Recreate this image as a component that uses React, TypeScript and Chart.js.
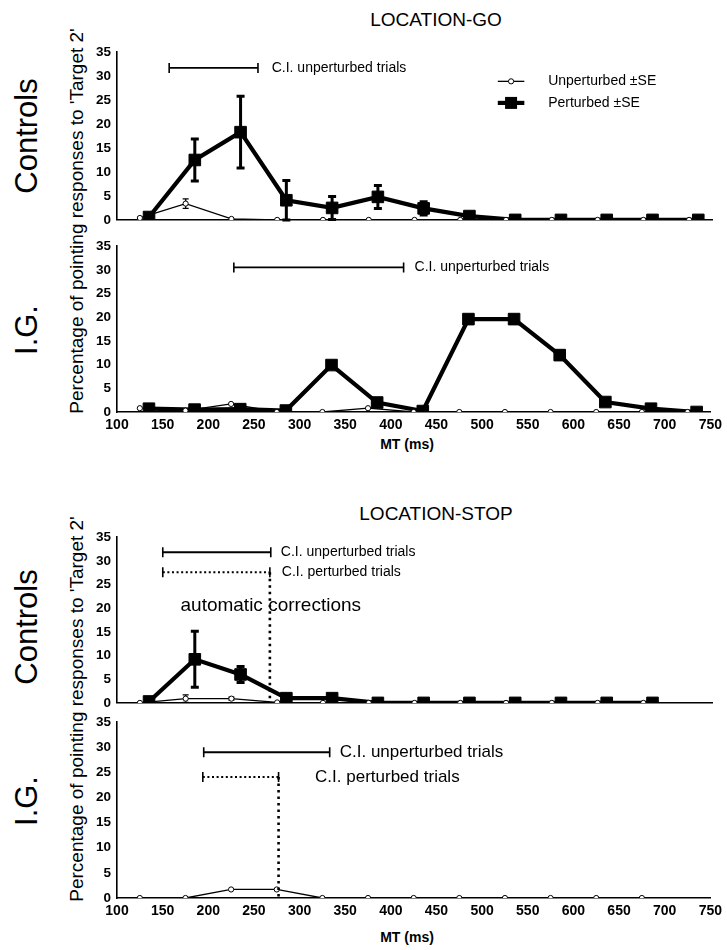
import React, { useEffect, useRef } from "react";
import { Chart, registerables } from "chart.js";

Chart.register(...registerables);

const FONT = "'Liberation Sans', Arial, Helvetica, sans-serif";

// ---------- data ----------
const xTicksMin = 100;
const xTicksMax = 750;
const xStep = 50;
const yMin = 0;
const yMax = 35;
const yStep = 5;

const unpertMsGo = [125, 175, 225, 275, 325, 375, 425, 475, 525, 575, 625, 675, 725];
const pertMsGo = [135, 185, 235, 285, 335, 385, 435, 485, 535, 585, 635, 685, 735];
const unpertMsStop = [125, 175, 225, 275, 325, 375, 425, 475, 525, 575, 625, 675];
const pertMsStop = [135, 185, 235, 285, 335, 385, 435, 485, 535, 585, 635, 685];

// LOCATION-GO, Controls
const goCtrlUnpert = [0.4, 3.4, 0.2, 0, 0, 0, 0, 0, 0, 0, 0, 0, 0];
const goCtrlUnpertSE = [0, 1.0, 0, 0, 0, 0, 0, 0, 0, 0, 0, 0, 0];
const goCtrlPert = [0.6, 12.5, 18.3, 4.1, 2.5, 4.8, 2.4, 0.8, 0, 0, 0, 0, 0];
const goCtrlPertSE = [0, 4.4, 7.5, 4.1, 2.4, 2.4, 1.4, 0, 0, 0, 0, 0, 0];

// LOCATION-GO, I.G.
const goIgUnpert = [0.8, 0.3, 1.7, 0, 0, 0.8, 0, 0, 0, 0, 0, 0, 0];
const goIgPert = [0.7, 0.5, 0.6, 0.3, 9.9, 2.0, 0.2, 19.6, 19.6, 12.0, 2.1, 0.7, 0];

// LOCATION-STOP, Controls
const stopCtrlUnpert = [0, 0.9, 0.9, 0.1, 0, 0, 0, 0, 0, 0, 0, 0];
const stopCtrlUnpertSE = [0, 0.8, 0.3, 0, 0, 0, 0, 0, 0, 0, 0, 0];
const stopCtrlPert = [0.3, 9.2, 6.0, 1.0, 1.0, 0, 0, 0, 0, 0, 0, 0];
const stopCtrlPertSE = [0, 5.9, 1.7, 0, 0, 0, 0, 0, 0, 0, 0, 0];

// LOCATION-STOP, I.G.
const stopIgUnpert = [0, 0, 1.7, 1.7, 0, 0, 0, 0, 0, 0, 0, 0];

// confidence intervals (ms)
const ciGoCtrlUnpert = [157, 254];
const ciGoIgUnpert = [228, 414];
const ciStopCtrlUnpert = [150, 268];
const ciStopCtrlPert = [150, 267];
const ciStopIgUnpert = [195, 333];
const ciStopIgPert = [194, 277];

const legendLabels = ["Unperturbed \u00b1SE", "Perturbed \u00b1SE"];
const ciUnpertLabel = "C.I. unperturbed trials";
const ciPertLabel = "C.I. perturbed trials";
const autoLabel = "automatic corrections";
const sectionTitles = ["LOCATION-GO", "LOCATION-STOP"];
const rowLabels = ["Controls", "I.G."];
const yTitle = "Percentage of pointing responses to 'Target 2'";
const xTitle = "MT (ms)";

// ---------- helpers ----------
const zip = (xs: number[], ys: number[]) => ys.map((v, i) => ({ x: xs[i], y: v }));

const unpertStyle = {
  borderColor: "#000",
  borderWidth: 1.3,
  pointStyle: "circle",
  pointRadius: 2.6,
  pointBackgroundColor: "#fff",
  pointBorderColor: "#000",
  pointBorderWidth: 1,
  tension: 0,
  clip: 0,
  seWidth: 1.3,
  seCap: 3,
};
const pertStyle = {
  borderColor: "#000",
  borderWidth: 4.2,
  pointStyle: "rect",
  pointRadius: 8.2,
  pointBackgroundColor: "#000",
  pointBorderColor: "#000",
  pointBorderWidth: 1,
  tension: 0,
  clip: 0,
  seWidth: 3,
  seCap: 4,
};

const overlay = {
  id: "overlay",
  beforeDatasetsDraw(chart: any) {
    const { ctx } = chart;
    const x = chart.scales.x;
    const y = chart.scales.y;
    chart.data.datasets.forEach((ds: any) => {
      if (!ds.se) return;
      ctx.save();
      ctx.strokeStyle = "#000";
      ctx.lineWidth = ds.seWidth;
      ds.data.forEach((p: any, j: number) => {
        const s = ds.se[j];
        if (!s) return;
        const px = x.getPixelForValue(p.x);
        const yt = y.getPixelForValue(p.y + s);
        const yb = y.getPixelForValue(Math.max(0, p.y - s));
        ctx.beginPath();
        ctx.moveTo(px, yt);
        ctx.lineTo(px, yb);
        ctx.moveTo(px - ds.seCap, yt);
        ctx.lineTo(px + ds.seCap, yt);
        ctx.moveTo(px - ds.seCap, yb);
        ctx.lineTo(px + ds.seCap, yb);
        ctx.stroke();
      });
      ctx.restore();
    });
  },
  afterDatasetsDraw(chart: any, _args: any, opts: any) {
    const { ctx } = chart;
    const x = chart.scales.x;
    const y = chart.scales.y;
    ctx.save();
    ctx.fillStyle = "#000";
    ctx.strokeStyle = "#000";
    (opts.texts || []).forEach((t: any) => {
      ctx.font = `${t.size}px ${FONT}`;
      ctx.textAlign = t.align || "left";
      ctx.textBaseline = "middle";
      ctx.fillText(t.text, x.getPixelForValue(t.at), y.getPixelForValue(t.level));
    });
    (opts.ci || []).forEach((c: any) => {
      const x1 = x.getPixelForValue(c.range[0]);
      const x2 = x.getPixelForValue(c.range[1]);
      const py = y.getPixelForValue(c.level);
      ctx.save();
      ctx.lineWidth = c.dotted ? 2 : 1.8;
      ctx.setLineDash(c.dotted ? [2, 2.6] : []);
      ctx.beginPath();
      ctx.moveTo(x1, py);
      ctx.lineTo(x2, py);
      ctx.stroke();
      ctx.setLineDash([]);
      ctx.lineWidth = 1.6;
      ctx.beginPath();
      ctx.moveTo(x1, py - 5);
      ctx.lineTo(x1, py + 5);
      ctx.moveTo(x2, py - 5);
      ctx.lineTo(x2, py + 5);
      ctx.stroke();
      if (c.drop) {
        ctx.lineWidth = 2.6;
        ctx.setLineDash([2.5, 4]);
        ctx.beginPath();
        ctx.moveTo(x2, py);
        ctx.lineTo(x2, y.getPixelForValue(0));
        ctx.stroke();
        ctx.setLineDash([]);
      }
      ctx.font = `${c.size}px ${FONT}`;
      ctx.textAlign = "left";
      ctx.textBaseline = "middle";
      ctx.fillText(c.label, x.getPixelForValue(c.labelAt), py);
      ctx.restore();
    });
    if (opts.legend) {
      const L = opts.legend;
      const x1 = x.getPixelForValue(L.from);
      const x2 = x.getPixelForValue(L.to);
      const xm = (x1 + x2) / 2;
      L.rows.forEach((r: any) => {
        const py = y.getPixelForValue(r.level);
        ctx.lineWidth = r.kind === "pert" ? 4.2 : 1.3;
        ctx.beginPath();
        ctx.moveTo(x1, py);
        ctx.lineTo(x2, py);
        ctx.stroke();
        if (r.kind === "pert") {
          ctx.fillRect(xm - 6, py - 6, 12, 12);
        } else {
          ctx.beginPath();
          ctx.arc(xm, py, 2.6, 0, Math.PI * 2);
          ctx.fillStyle = "#fff";
          ctx.fill();
          ctx.lineWidth = 1;
          ctx.stroke();
          ctx.fillStyle = "#000";
        }
        ctx.font = `${L.size}px ${FONT}`;
        ctx.textAlign = "left";
        ctx.textBaseline = "middle";
        ctx.fillText(r.label, x.getPixelForValue(L.textAt), py);
      });
    }
    ctx.restore();
  },
};

type Spec = {
  top: number;
  height: number;
  showX: boolean;
  bottomPad: number;
  datasets: any[];
  overlay: any;
};

const PLOT_LEFT = 117;
const PLOT_RIGHT_PAD = 15;

function makeConfig(spec: Spec): any {
  return {
    type: "line",
    data: { datasets: spec.datasets },
    plugins: [overlay],
    options: {
      animation: false,
      responsive: false,
      maintainAspectRatio: false,
      devicePixelRatio: 1,
      events: [],
      layout: { padding: { left: 0, right: PLOT_RIGHT_PAD, top: 10, bottom: spec.bottomPad } },
      plugins: {
        legend: { display: false },
        tooltip: { enabled: false },
        overlay: spec.overlay,
      },
      scales: {
        x: {
          type: "linear",
          min: xTicksMin,
          max: xTicksMax,
          grid: { display: false, drawTicks: false },
          border: { display: true, color: "#000", width: 1.6 },
          ticks: {
            display: spec.showX,
            stepSize: xStep,
            autoSkip: false,
            maxRotation: 0,
            padding: 5,
            color: "#000",
            font: { family: FONT, size: 14, weight: "bold" },
          },
          afterFit: (s: any) => {
            s.height = spec.showX ? 24 : 0;
          },
        },
        y: {
          type: "linear",
          min: yMin,
          max: yMax,
          grid: { display: false, drawTicks: false },
          border: { display: true, color: "#000", width: 1.6 },
          ticks: {
            stepSize: yStep,
            padding: 6,
            color: "#000",
            font: { family: FONT, size: 13.5, weight: "bold" },
          },
          afterFit: (s: any) => {
            s.width = PLOT_LEFT;
          },
        },
      },
    },
  };
}

function PanelChart({ spec }: { spec: Spec }) {
  const ref = useRef<HTMLCanvasElement>(null);
  useEffect(() => {
    const chart = new Chart(ref.current as HTMLCanvasElement, makeConfig(spec));
    return () => chart.destroy();
  }, []);
  return (
    <canvas
      ref={ref}
      width={727}
      height={spec.height}
      style={{ position: "absolute", left: 0, top: spec.top, width: 727, height: spec.height }}
    />
  );
}

const legendCfg = {
  from: 516,
  to: 545,
  textAt: 571,
  size: 14,
  rows: [
    { label: legendLabels[0], level: 28.9, kind: "unpert" },
    { label: legendLabels[1], level: 24.4, kind: "pert" },
  ],
};

const panels: Spec[] = [
  {
    top: 38,
    height: 10 + 177 + 9,
    showX: false,
    bottomPad: 9,
    datasets: [
      { label: legendLabels[0], data: zip(unpertMsGo, goCtrlUnpert), se: goCtrlUnpertSE, ...unpertStyle },
      { label: legendLabels[1], data: zip(pertMsGo, goCtrlPert), se: goCtrlPertSE, ...pertStyle },
    ],
    overlay: {
      ci: [{ range: ciGoCtrlUnpert, level: 31.7, label: ciUnpertLabel, labelAt: 269, size: 14 }],
      legend: legendCfg,
    },
  },
  {
    top: 232,
    height: 10 + 170 + 24,
    showX: true,
    bottomPad: 0,
    datasets: [
      { label: legendLabels[0], data: zip(unpertMsGo, goIgUnpert), ...unpertStyle },
      { label: legendLabels[1], data: zip(pertMsGo, goIgPert), ...pertStyle },
    ],
    overlay: {
      ci: [{ range: ciGoIgUnpert, level: 30.5, label: ciUnpertLabel, labelAt: 426, size: 14 }],
    },
  },
  {
    top: 523,
    height: 10 + 175 + 9,
    showX: false,
    bottomPad: 9,
    datasets: [
      { label: legendLabels[0], data: zip(unpertMsStop, stopCtrlUnpert), se: stopCtrlUnpertSE, ...unpertStyle },
      { label: legendLabels[1], data: zip(pertMsStop, stopCtrlPert), se: stopCtrlPertSE, ...pertStyle },
    ],
    overlay: {
      texts: [{ text: autoLabel, at: 268, level: 20.6, size: 19, align: "center" }],
      ci: [
        { range: ciStopCtrlUnpert, level: 31.8, label: ciUnpertLabel, labelAt: 279, size: 14 },
        { range: ciStopCtrlPert, level: 27.6, label: ciPertLabel, labelAt: 280, size: 14, dotted: true, drop: true },
      ],
    },
  },
  {
    top: 708,
    height: 10 + 180 + 24,
    showX: true,
    bottomPad: 0,
    datasets: [{ label: legendLabels[0], data: zip(unpertMsStop, stopIgUnpert), ...unpertStyle }],
    overlay: {
      ci: [
        { range: ciStopIgUnpert, level: 29, label: ciUnpertLabel, labelAt: 344, size: 17 },
        { range: ciStopIgPert, level: 24.1, label: ciPertLabel, labelAt: 317, size: 17, dotted: true, drop: true },
      ],
    },
  },
];

const abs = (left: number, top: number, extra: any = {}) => ({
  position: "absolute" as const,
  left,
  top,
  whiteSpace: "nowrap" as const,
  lineHeight: 1,
  color: "#000",
  ...extra,
});

function RotLabel({ x, y, size, text }: { x: number; y: number; size: number; text: string }) {
  return (
    <div style={abs(x, y, { fontSize: size, transform: "translate(-50%, -50%) rotate(-90deg)" })}>{text}</div>
  );
}

function CenterLabel({ x, y, size, text, bold }: { x: number; y: number; size: number; text: string; bold?: boolean }) {
  return (
    <div style={abs(x, y, { fontSize: size, fontWeight: bold ? "bold" : "normal", transform: "translate(-50%, -50%)" })}>
      {text}
    </div>
  );
}

export default function App() {
  return (
    <div
      style={{
        position: "absolute",
        left: 0,
        top: 0,
        width: 727,
        height: 950,
        background: "#fff",
        fontFamily: FONT,
        overflow: "hidden",
      }}
    >
      <CenterLabel x={436} y={19} size={19} text={sectionTitles[0]} />
      <CenterLabel x={436} y={513} size={19} text={sectionTitles[1]} />

      <RotLabel x={26} y={136} size={31} text={rowLabels[0]} />
      <RotLabel x={26} y={330} size={31} text={rowLabels[1]} />
      <RotLabel x={26} y={627} size={31} text={rowLabels[0]} />
      <RotLabel x={26} y={801} size={31} text={rowLabels[1]} />

      <RotLabel x={76} y={221} size={19} text={yTitle} />
      <RotLabel x={76} y={709} size={19} text={yTitle} />

      <CenterLabel x={407} y={444} size={14} bold text={xTitle} />
      <CenterLabel x={407} y={937} size={14} bold text={xTitle} />

      {panels.map((p, i) => (
        <PanelChart key={i} spec={p} />
      ))}
    </div>
  );
}
